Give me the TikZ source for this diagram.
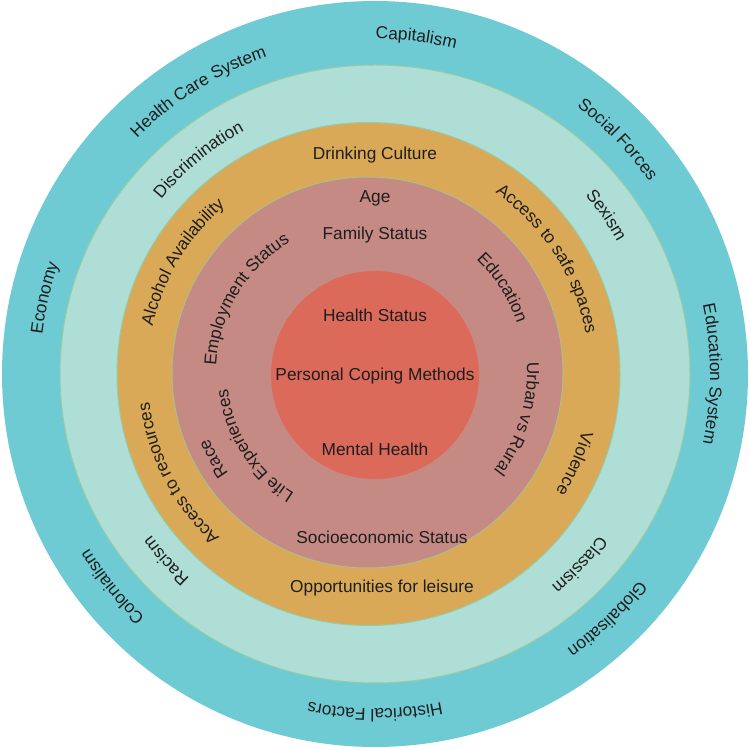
\documentclass[tikz,border=0pt]{standalone}
\usepackage{fontspec}
\setmainfont{Liberation Sans}
\usetikzlibrary{decorations.text,calc}
\definecolor{outerc}{HTML}{6ECBD3}
\definecolor{lightc}{HTML}{AEDED5}
\definecolor{orangec}{HTML}{D9A957}
\definecolor{pinkc}{HTML}{C68A84}
\definecolor{redc}{HTML}{DB6A5B}
\definecolor{edgec}{HTML}{96CBA5}
\definecolor{txt}{HTML}{1E1E1E}
\newcommand\lbl{\fontsize{17.3}{20}\selectfont}
% #1 centre, #2 angle of text centre, #3 baseline radius, #4 text (clockwise, tops outward)
\newcommand\ringtext[4]{\path[decorate,decoration={text along path,text align=center,text color=txt,text={|\lbl|#4}}] ($(#1)+({#2+50}:#3pt)$) arc[start angle={#2+50}, end angle={#2-50}, radius=#3pt];}
\begin{document}
\begin{tikzpicture}[x=1pt,y=1pt,
  flat/.style={font=\lbl, text=txt, inner sep=0pt},
  ringfill/.style={draw=edgec, line width=1pt}]
\useasboundingbox (0,0) rectangle (750,750);
\coordinate (O) at (375,376);
\coordinate (OR) at (368.5,376);
\coordinate (PK) at (368,377);
\coordinate (RD) at (375,375);
% rings
\fill[outerc] (O) circle[radius=373pt];
\filldraw[ringfill, fill=lightc] (O) ellipse[x radius=315pt, y radius=309pt];
\filldraw[ringfill, fill=orangec] (OR) circle[radius=251.5pt];
\filldraw[ringfill, draw=edgec!60!orangec, fill=pinkc] (367.5,377.5) circle[radius=195.5pt];
\fill[redc] (RD) circle[radius=104pt];
% outer ring texts
\ringtext{O}{83}{335}{Capitalism}
\ringtext{O}{122}{335}{Health Care System}
\ringtext{O}{44}{335}{Social Forces}
\ringtext{O}{0}{335}{Education System}
\ringtext{O}{-46.5}{335}{Globalisation}
\ringtext{O}{-90}{335}{Historical Factors}
\ringtext{O}{219}{335}{Colonialism}
\ringtext{O}{167}{335}{Economy}
% light ring texts
\ringtext{O}{129.5}{276}{Discrimination}
\ringtext{O}{34.5}{276}{Sexism}
\ringtext{O}{-43}{276}{Classism}
\ringtext{O}{221.8}{276}{Racism}
% orange ring texts
\ringtext{OR}{149}{221}{Alcohol Availability}
\ringtext{OR}{32.7}{221}{Access to safe spaces}
\ringtext{OR}{-23.5}{221}{Violence}
\ringtext{OR}{207.5}{221}{Access to resources}
% pink ring texts
\ringtext{PK}{149}{152}{Employment Status}
\ringtext{PK}{32.4}{157}{Education}
\ringtext{PK}{-17}{159}{Urban vs Rural}
\ringtext{PK}{212.5}{141}{Life Experiences}
\ringtext{PK}{209}{172}{Race}
% straight texts
\node[flat] (drink) at (375,595) {Drinking Culture};
\node[flat] (age) at (375,552) {Age};
\node[flat] (fam) at (375,515) {Family Status};
\node[flat] (hs) at (375,435) {Health Status};
\node[flat] (pcm) at (375,374) {Personal Coping Methods};
\node[flat] (mh) at (375,301) {Mental Health};
\node[flat] (ses) at (382,213) {Socioeconomic Status};
\node[flat] (opp) at (382,162) {Opportunities for leisure};
\end{tikzpicture}
\end{document}
